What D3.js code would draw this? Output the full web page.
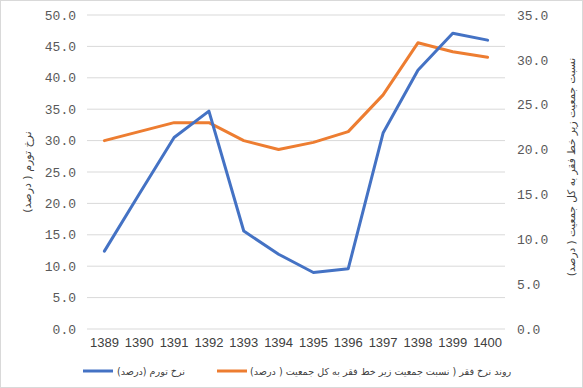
<!DOCTYPE html>
<html><head><meta charset="utf-8">
<script src="https://cdn.jsdelivr.net/npm/d3@7"></script>
<style>body{margin:0;background:#fff;} svg{display:block;}</style>
</head><body>
<svg id="c" width="583" height="388"></svg>
<script>
const years = ["1389","1390","1391","1392","1393","1394","1395","1396","1397","1398","1399","1400"];
const inflation = [12.4, 21.5, 30.5, 34.7, 15.6, 11.9, 9.0, 9.6, 31.2, 41.2, 47.1, 46.0];
const poverty = [21.0, 22.0, 23.0, 23.0, 21.0, 20.0, 20.8, 22.0, 26.1, 31.9, 30.9, 30.3];
const leftTicks = [0,5,10,15,20,25,30,35,40,45,50];
const rightTicks = [0,5,10,15,20,25,30,35];
const inflationName = "نرخ تورم (درصد)";
const povertyName = "روند نرخ فقر ( نسبت جمعیت زیر خط فقر به کل جمعیت ( درصد)";
const leftTitle = "نرخ تورم ( درصد)";
const rightTitle = "نسبت جمعیت زیر خط فقر به کل جمعیت ( درصد)";

const svg = d3.select("#c");
const W = 583, H = 388;
svg.append("rect").attr("x",0.5).attr("y",0.5).attr("width",W-1).attr("height",H-1)
  .attr("fill","#fff").attr("stroke","#d9d9d9");

const L = 87, R = 505, T = 15, B = 329;
const x = d3.scaleBand().domain(years).range([L, R]);
const yL = d3.scaleLinear().domain([0,50]).range([B, T]);
const yR = d3.scaleLinear().domain([0,35]).range([B, T]);

// gridlines
svg.append("g").selectAll("line").data(leftTicks).join("line")
  .attr("x1",L).attr("x2",R).attr("y1",d=>yL(d)).attr("y2",d=>yL(d))
  .attr("stroke","#d9d9d9").attr("stroke-width",1);

// left axis
const axL = d3.axisLeft(yL).tickValues(leftTicks).tickFormat(d3.format(".1f")).tickSize(0).tickPadding(11);
const gL = svg.append("g").attr("transform",`translate(${L},0)`).call(axL);
gL.select(".domain").remove();
gL.selectAll("text").attr("font-family","'Liberation Mono', monospace").attr("font-size",13).attr("fill","#595959");

// right axis
const axR = d3.axisRight(yR).tickValues(rightTicks).tickFormat(d3.format(".1f")).tickSize(0).tickPadding(12);
const gR = svg.append("g").attr("transform",`translate(${R},0)`).call(axR);
gR.select(".domain").remove();
gR.selectAll("text").attr("font-family","'Liberation Mono', monospace").attr("font-size",13).attr("fill","#595959");

// x axis
const axX = d3.axisBottom(x).tickSize(0).tickPadding(9);
const gX = svg.append("g").attr("transform",`translate(0,${B})`).call(axX);
gX.select(".domain").remove();
gX.selectAll("text").attr("font-family","'Liberation Sans', Arial, sans-serif").attr("font-size",13).attr("fill","#404040");

// lines
const cx = d => x(d) + x.bandwidth()/2;
const lineL = d3.line().x((d,i)=>cx(years[i])).y(d=>yL(d));
const lineR = d3.line().x((d,i)=>cx(years[i])).y(d=>yR(d));
svg.append("path").attr("d",lineR(poverty)).attr("fill","none").attr("stroke","#ED7D31").attr("stroke-width",3).attr("stroke-linejoin","round").attr("stroke-linecap","round");
svg.append("path").attr("d",lineL(inflation)).attr("fill","none").attr("stroke","#4472C4").attr("stroke-width",3).attr("stroke-linejoin","round").attr("stroke-linecap","round");

// axis titles
svg.append("text").attr("transform",`translate(31,${(T+B)/2}) rotate(-90)`)
  .attr("text-anchor","middle").attr("direction","rtl").attr("font-family","'DejaVu Sans', sans-serif").attr("font-size",11).attr("fill","#404040").text(leftTitle);
svg.append("text").attr("transform",`translate(575,167) rotate(-90)`)
  .attr("text-anchor","middle").attr("direction","rtl").attr("font-family","'DejaVu Sans', sans-serif").attr("font-size",10.5).attr("fill","#404040").text(rightTitle);

// legend
const leg = [{name: inflationName, color:"#4472C4", x:83, tx:117},{name: povertyName, color:"#ED7D31", x:217, tx:250}];
const lg = svg.append("g");
leg.forEach(d=>{
  lg.append("line").attr("x1",d.x).attr("x2",d.x+30).attr("y1",371).attr("y2",371).attr("stroke",d.color).attr("stroke-width",3);
  lg.append("text").attr("x",d.tx).attr("y",375).attr("direction","rtl").attr("text-anchor","end")
    .attr("font-family","'DejaVu Sans', sans-serif").attr("font-size",9.6).attr("fill","#404040").text(d.name);
});
</script>
</body></html>
